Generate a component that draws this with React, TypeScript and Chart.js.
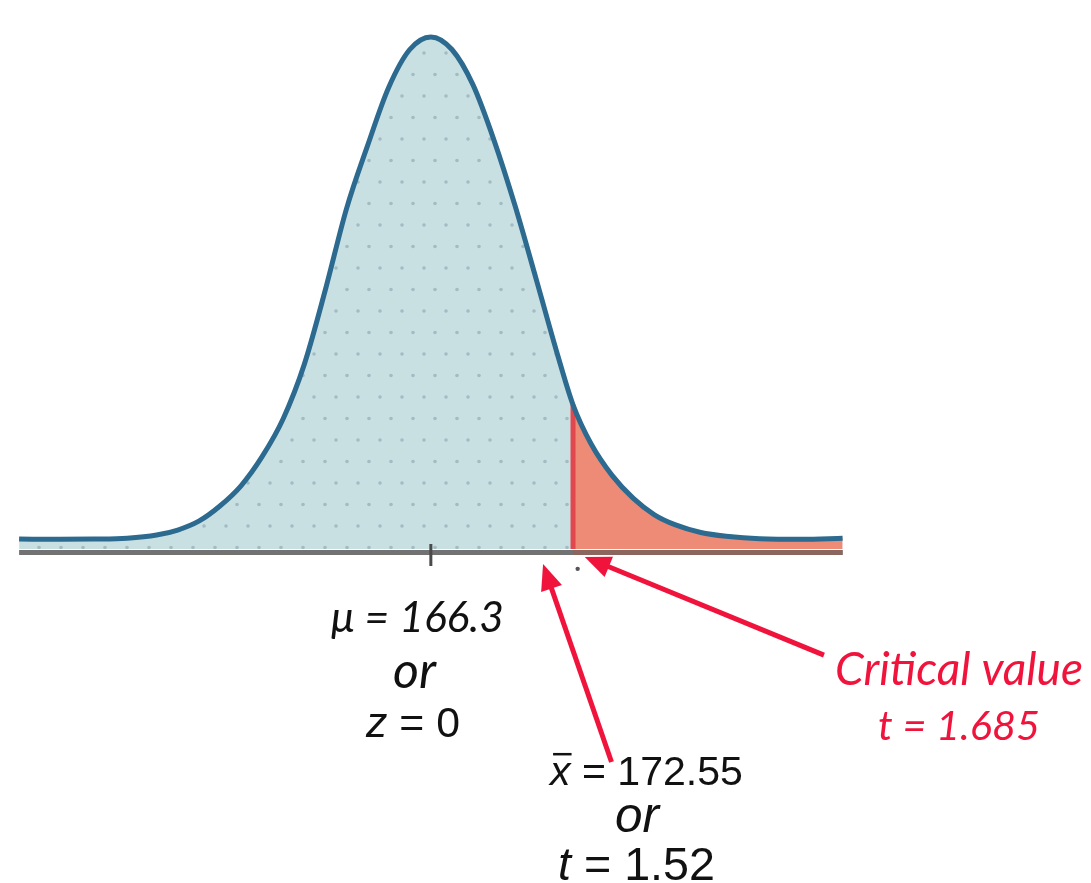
import React, { useEffect, useRef } from "react";
import { Chart, registerables } from "chart.js";

Chart.register(...registerables);

// t-values along the horizontal axis and the curve height
const T_VALUES = [
  -4.88, -4.4, -4.0, -3.6, -3.25, -3.0, -2.75, -2.5, -2.25, -2.0, -1.75, -1.5, -1.25,
  -1.0, -0.75, -0.5, -0.25, 0, 0.25, 0.5, 0.75, 1.0, 1.25, 1.5, 1.685, 1.9, 2.15, 2.4,
  2.65, 2.9, 3.2, 3.5, 3.9, 4.4, 4.88,
];
const DENSITY = [
  0.0008, 0.0006, 0.0008, 0.0015, 0.004, 0.008, 0.015, 0.027, 0.043, 0.066, 0.096, 0.139,
  0.198, 0.262, 0.312, 0.358, 0.388, 0.398, 0.388, 0.36, 0.316, 0.264, 0.206, 0.147,
  0.107, 0.076, 0.051, 0.033, 0.02, 0.012, 0.006, 0.003, 0.001, 0.0006, 0.0015,
];

const MU_T = 0;
const CRITICAL_T = 1.685;
const CRITICAL_MARK_T = 1.74;
const SAMPLE_ARROW_T = 1.33;

const FILL_FLOOR = -0.007;
const AXIS_LEVEL = -0.0098;
const TICK_TOP = -0.003;
const TICK_BOTTOM = -0.0204;
const MARK_LEVEL = -0.0227;

const X_RANGE = [-5.0588, 7.7765];
const Y_RANGE = [-0.268, 0.424];

const RED = "#f0143c";

const ARROWS = [
  { tipT: SAMPLE_ARROW_T, tipD: -0.0188, tailT: 2.141, tailD: -0.1755 },
  { tipT: 1.824, tipD: -0.0133, tailT: 4.659, tailD: -0.0909 },
];

type Run = { text: string; italic: boolean; family: string; bar?: boolean };
type Label = { runs: Run[]; left: number; baseline: number; width: number; color: string };

const LATO = "Lato";
const ARIAL = '"Liberation Sans"';

const LABELS: Label[] = [
  { runs: [{ text: "\u03bc = 166.3", italic: true, family: LATO }], left: 331, baseline: 632, width: 173, color: "#111" },
  { runs: [{ text: "or", italic: true, family: LATO }], left: 393, baseline: 688, width: 43, color: "#111" },
  {
    runs: [
      { text: "z", italic: true, family: ARIAL },
      { text: " = 0", italic: false, family: ARIAL },
    ],
    left: 366, baseline: 737, width: 94, color: "#111",
  },
  {
    runs: [
      { text: "x", italic: true, family: ARIAL, bar: true },
      { text: " = 172.55", italic: false, family: ARIAL },
    ],
    left: 550, baseline: 785, width: 193, color: "#111",
  },
  { runs: [{ text: "or", italic: true, family: ARIAL }], left: 615, baseline: 832, width: 44, color: "#111" },
  {
    runs: [
      { text: "t", italic: true, family: ARIAL },
      { text: " = 1.52", italic: false, family: ARIAL },
    ],
    left: 558, baseline: 880, width: 157, color: "#111",
  },
  { runs: [{ text: "Critical value", italic: true, family: LATO }], left: 835, baseline: 685, width: 248, color: RED },
  { runs: [{ text: "t = 1.685", italic: true, family: LATO }], left: 878, baseline: 740, width: 162, color: RED },
];

function fontOf(r: Run, size: number) {
  return `${r.italic ? "italic " : ""}${size}px ${r.family}`;
}

function drawLabel(ctx: CanvasRenderingContext2D, l: Label) {
  const base = 40;
  let total = 0;
  for (const r of l.runs) {
    ctx.font = fontOf(r, base);
    total += ctx.measureText(r.text).width;
  }
  const size = (base * l.width) / total;
  let x = l.left;
  ctx.fillStyle = l.color;
  ctx.strokeStyle = l.color;
  ctx.textBaseline = "alphabetic";
  ctx.textAlign = "left";
  for (const r of l.runs) {
    ctx.font = fontOf(r, size);
    const w = ctx.measureText(r.text).width;
    ctx.fillText(r.text, x, l.baseline);
    if (r.bar) {
      const y = l.baseline - size * 0.75;
      ctx.lineWidth = 2.5;
      ctx.beginPath();
      ctx.moveTo(x + w * 0.15, y);
      ctx.lineTo(x + w * 1.05, y);
      ctx.stroke();
    }
    x += w;
  }
}

function drawArrow(ctx: CanvasRenderingContext2D, x1: number, y1: number, x2: number, y2: number) {
  const headLen = 26;
  const headW = 22;
  const ang = Math.atan2(y2 - y1, x2 - x1);
  const c = Math.cos(ang);
  const s = Math.sin(ang);
  const bx = x2 - headLen * c;
  const by = y2 - headLen * s;
  ctx.strokeStyle = RED;
  ctx.fillStyle = RED;
  ctx.lineWidth = 5;
  ctx.lineCap = "butt";
  ctx.beginPath();
  ctx.moveTo(x1, y1);
  ctx.lineTo(bx + 2 * c, by + 2 * s);
  ctx.stroke();
  ctx.beginPath();
  ctx.moveTo(x2, y2);
  ctx.lineTo(bx - (headW / 2) * s, by + (headW / 2) * c);
  ctx.lineTo(bx + (headW / 2) * s, by - (headW / 2) * c);
  ctx.closePath();
  ctx.fill();
}

const annotationPlugin = {
  id: "annotations",
  afterDatasetsDraw(chart: any) {
    const ctx: CanvasRenderingContext2D = chart.ctx;
    const xs = chart.scales.x;
    const ys = chart.scales.y;
    ctx.save();
    for (const a of ARROWS) {
      drawArrow(
        ctx,
        xs.getPixelForValue(a.tailT),
        ys.getPixelForValue(a.tailD),
        xs.getPixelForValue(a.tipT),
        ys.getPixelForValue(a.tipD)
      );
    }
    for (const l of LABELS) drawLabel(ctx, l);
    ctx.restore();
  },
};

function makePattern(): CanvasPattern | string {
  const c = document.createElement("canvas");
  c.width = 22;
  c.height = 43;
  const g = c.getContext("2d");
  if (!g) return "#c9e0e3";
  g.fillStyle = "#c9e0e3";
  g.fillRect(0, 0, 22, 43);
  g.fillStyle = "#a3bbc2";
  for (const [x, y] of [
    [6, 10],
    [17, 31.5],
  ]) {
    g.beginPath();
    g.arc(x, y, 1.8, 0, Math.PI * 2);
    g.fill();
  }
  return g.createPattern(c, "repeat") || "#c9e0e3";
}

export default function App() {
  const ref = useRef<HTMLCanvasElement | null>(null);

  useEffect(() => {
    if (!ref.current) return;
    const curve = T_VALUES.map((t, i) => ({ x: t, y: DENSITY[i] }));
    const tail = curve.filter((p) => p.x >= CRITICAL_T);
    const critIdx = T_VALUES.indexOf(CRITICAL_T);
    const first = T_VALUES[0];
    const last = T_VALUES[T_VALUES.length - 1];

    const chart = new Chart(ref.current, {
      type: "line",
      data: {
        datasets: [
          {
            data: curve,
            borderWidth: 0,
            backgroundColor: makePattern() as any,
            fill: { value: FILL_FLOOR },
            cubicInterpolationMode: "monotone",
            order: 10,
          },
          {
            data: tail,
            borderWidth: 0,
            backgroundColor: "#ee8b76",
            fill: { value: FILL_FLOOR },
            cubicInterpolationMode: "monotone",
            order: 9,
          },
          {
            data: [
              { x: CRITICAL_T, y: FILL_FLOOR },
              { x: CRITICAL_T, y: DENSITY[critIdx] },
            ],
            borderColor: "#e2474e",
            borderWidth: 5,
            fill: false,
            order: 8,
          },
          {
            data: [
              { x: first, y: AXIS_LEVEL },
              { x: last, y: AXIS_LEVEL },
            ],
            borderColor: "#727272",
            borderWidth: 5,
            fill: false,
            order: 7,
          },
          {
            data: [
              { x: CRITICAL_T, y: AXIS_LEVEL },
              { x: last, y: AXIS_LEVEL },
            ],
            borderColor: "#8a665e",
            borderWidth: 5,
            fill: false,
            order: 6,
          },
          {
            data: curve,
            borderColor: "#2c6a8f",
            borderWidth: 5,
            fill: false,
            cubicInterpolationMode: "monotone",
            order: 5,
          },
          {
            data: [
              { x: MU_T, y: TICK_TOP },
              { x: MU_T, y: TICK_BOTTOM },
            ],
            borderColor: "#4a4a4a",
            borderWidth: 3,
            fill: false,
            order: 4,
          },
          {
            data: [{ x: CRITICAL_MARK_T, y: MARK_LEVEL }],
            showLine: false,
            pointRadius: 2.2,
            pointBackgroundColor: "#555",
            pointBorderWidth: 0,
            order: 3,
          },
        ],
      },
      options: {
        responsive: false,
        animation: false,
        devicePixelRatio: 1,
        layout: { padding: 0 },
        elements: { point: { radius: 0 }, line: { borderCapStyle: "butt" } },
        plugins: { legend: { display: false }, tooltip: { enabled: false } },
        scales: {
          x: { type: "linear", min: X_RANGE[0], max: X_RANGE[1], display: false },
          y: { type: "linear", min: Y_RANGE[0], max: Y_RANGE[1], display: false },
        },
      },
      plugins: [annotationPlugin],
    });
    return () => chart.destroy();
  }, []);

  return (
    <div style={{ position: "fixed", left: 0, top: 0, width: 1091, height: 883, background: "#fff" }}>
      <canvas ref={ref} width={1091} height={883} style={{ display: "block" }} />
    </div>
  );
}
